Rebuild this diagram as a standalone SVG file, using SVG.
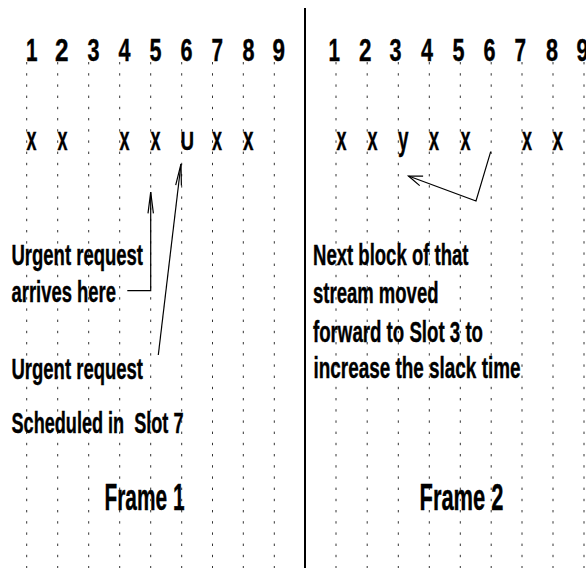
<svg xmlns="http://www.w3.org/2000/svg" width="586" height="568" viewBox="0 0 586 568">
<style>
.grid line{stroke:#333;stroke-width:1;stroke-dasharray:2.4 8.8}
text{font-family:"Liberation Sans",Arial,sans-serif;font-weight:bold;fill:#000;stroke:#000;stroke-width:0.4}
.num{font-size:32px}
.mark{font-size:33px}
.lbl{font-size:29px}
.frm{font-size:36px}
.conn{fill:none;stroke:#000;stroke-width:1.2}
</style>
<rect width="586" height="568" fill="#fff"/>
<g class="grid" id="grid">
<line x1="26.7" y1="62" x2="26.7" y2="568"/>
<line x1="57.7" y1="62" x2="57.7" y2="568"/>
<line x1="88.7" y1="62" x2="88.7" y2="568"/>
<line x1="119.7" y1="62" x2="119.7" y2="568"/>
<line x1="150.7" y1="62" x2="150.7" y2="568"/>
<line x1="181.7" y1="62" x2="181.7" y2="568"/>
<line x1="212.5" y1="62" x2="212.5" y2="568"/>
<line x1="243.3" y1="62" x2="243.3" y2="568"/>
<line x1="274.3" y1="62" x2="274.3" y2="568"/>
<line x1="336" y1="62" x2="336" y2="568"/>
<line x1="367.2" y1="62" x2="367.2" y2="568"/>
<line x1="398.3" y1="62" x2="398.3" y2="568"/>
<line x1="429.3" y1="62" x2="429.3" y2="568"/>
<line x1="460.3" y1="62" x2="460.3" y2="568"/>
<line x1="491.2" y1="62" x2="491.2" y2="568"/>
<line x1="522" y1="62" x2="522" y2="568"/>
<line x1="553" y1="62" x2="553" y2="568"/>
<line x1="584" y1="62" x2="584" y2="568"/>
</g>
<line id="separator" x1="305" y1="8" x2="305" y2="568" stroke="#000" stroke-width="2"/>
<g id="frame1-slots">
<text class="num" x="26" y="61" textLength="11.5" lengthAdjust="spacingAndGlyphs">1</text>
<text class="num" x="55" y="61" textLength="13.5" lengthAdjust="spacingAndGlyphs">2</text>
<text class="num" x="87.5" y="61" textLength="12" lengthAdjust="spacingAndGlyphs">3</text>
<text class="num" x="118.5" y="61" textLength="12" lengthAdjust="spacingAndGlyphs">4</text>
<text class="num" x="149.5" y="61" textLength="12" lengthAdjust="spacingAndGlyphs">5</text>
<text class="num" x="180.5" y="61" textLength="12" lengthAdjust="spacingAndGlyphs">6</text>
<text class="num" x="211.5" y="61" textLength="11.5" lengthAdjust="spacingAndGlyphs">7</text>
<text class="num" x="242.5" y="61" textLength="12" lengthAdjust="spacingAndGlyphs">8</text>
<text class="num" x="272.5" y="61" textLength="12.5" lengthAdjust="spacingAndGlyphs">9</text>
</g>
<g id="frame2-slots">
<text class="num" x="328.5" y="61" textLength="11.5" lengthAdjust="spacingAndGlyphs">1</text>
<text class="num" x="359" y="61" textLength="12.5" lengthAdjust="spacingAndGlyphs">2</text>
<text class="num" x="389.5" y="61" textLength="12" lengthAdjust="spacingAndGlyphs">3</text>
<text class="num" x="421" y="61" textLength="12" lengthAdjust="spacingAndGlyphs">4</text>
<text class="num" x="452.5" y="61" textLength="12" lengthAdjust="spacingAndGlyphs">5</text>
<text class="num" x="483.5" y="61" textLength="12" lengthAdjust="spacingAndGlyphs">6</text>
<text class="num" x="514.5" y="61" textLength="11.5" lengthAdjust="spacingAndGlyphs">7</text>
<text class="num" x="546" y="61" textLength="12" lengthAdjust="spacingAndGlyphs">8</text>
<text class="num" x="576.5" y="61" textLength="12" lengthAdjust="spacingAndGlyphs">9</text>
</g>
<g id="frame1-blocks">
<text class="mark" x="26.5" y="150" textLength="10" lengthAdjust="spacingAndGlyphs">x</text>
<text class="mark" x="57.5" y="150" textLength="10" lengthAdjust="spacingAndGlyphs">x</text>
<text class="mark" x="119.5" y="150" textLength="10" lengthAdjust="spacingAndGlyphs">x</text>
<text class="mark" x="150.5" y="150" textLength="10" lengthAdjust="spacingAndGlyphs">x</text>
<text class="mark" x="180.5" y="150" textLength="13.5" lengthAdjust="spacingAndGlyphs" style="font-size:26px">U</text>
<text class="mark" x="212" y="150" textLength="10" lengthAdjust="spacingAndGlyphs">x</text>
<text class="mark" x="243" y="150" textLength="10.5" lengthAdjust="spacingAndGlyphs">x</text>
</g>
<g id="frame2-blocks">
<text class="mark" x="336.5" y="150" textLength="10" lengthAdjust="spacingAndGlyphs">x</text>
<text class="mark" x="367.5" y="150" textLength="10" lengthAdjust="spacingAndGlyphs">x</text>
<text class="mark" x="398" y="150" textLength="10.5" lengthAdjust="spacingAndGlyphs">y</text>
<text class="mark" x="429" y="150" textLength="10" lengthAdjust="spacingAndGlyphs">x</text>
<text class="mark" x="460.5" y="150" textLength="10" lengthAdjust="spacingAndGlyphs">x</text>
<text class="mark" x="522" y="150" textLength="10" lengthAdjust="spacingAndGlyphs">x</text>
<text class="mark" x="552.5" y="150" textLength="10.5" lengthAdjust="spacingAndGlyphs">x</text>
</g>
<g id="label-arrives">
<text class="lbl" x="11.5" y="265" textLength="131.5" lengthAdjust="spacingAndGlyphs">Urgent request</text>
<text class="lbl" x="11.5" y="302.3" textLength="104.5" lengthAdjust="spacingAndGlyphs">arrives here</text>
</g>
<g id="label-scheduled">
<text class="lbl" x="11.5" y="379.3" textLength="131.5" lengthAdjust="spacingAndGlyphs">Urgent request</text>
<text class="lbl" x="11.5" y="433.3" textLength="172" lengthAdjust="spacingAndGlyphs" xml:space="preserve">Scheduled in  Slot 7</text>
</g>
<g id="label-moved">
<text class="lbl" x="313" y="265" textLength="155.5" lengthAdjust="spacingAndGlyphs">Next block of that</text>
<text class="lbl" x="313" y="303.3" textLength="125.5" lengthAdjust="spacingAndGlyphs">stream moved</text>
<text class="lbl" x="313" y="341.7" textLength="170" lengthAdjust="spacingAndGlyphs">forward to Slot 3 to</text>
<text class="lbl" x="313.5" y="378.3" textLength="207" lengthAdjust="spacingAndGlyphs">increase the slack time</text>
</g>
<g id="frame1-title">
<text class="frm" x="104.5" y="510" textLength="80" lengthAdjust="spacingAndGlyphs">Frame 1</text>
</g>
<g id="frame2-title">
<text class="frm" x="419.5" y="510" textLength="84" lengthAdjust="spacingAndGlyphs">Frame 2</text>
</g>
<g id="connectors" class="conn">
<polyline points="127.3,290.7 150.7,290.7 150.7,192"/>
<polyline points="148,213.3 150.7,192 153.4,213.3"/>
<line x1="158.3" y1="355" x2="181" y2="164"/>
<polyline points="175.7,185.2 181,164 181.4,185.6"/>
<polyline points="490.7,151.7 476,201 408.5,176"/>
<polyline points="423.1,176.2 408.5,176 419.7,185.6"/>
</g>
</svg>
